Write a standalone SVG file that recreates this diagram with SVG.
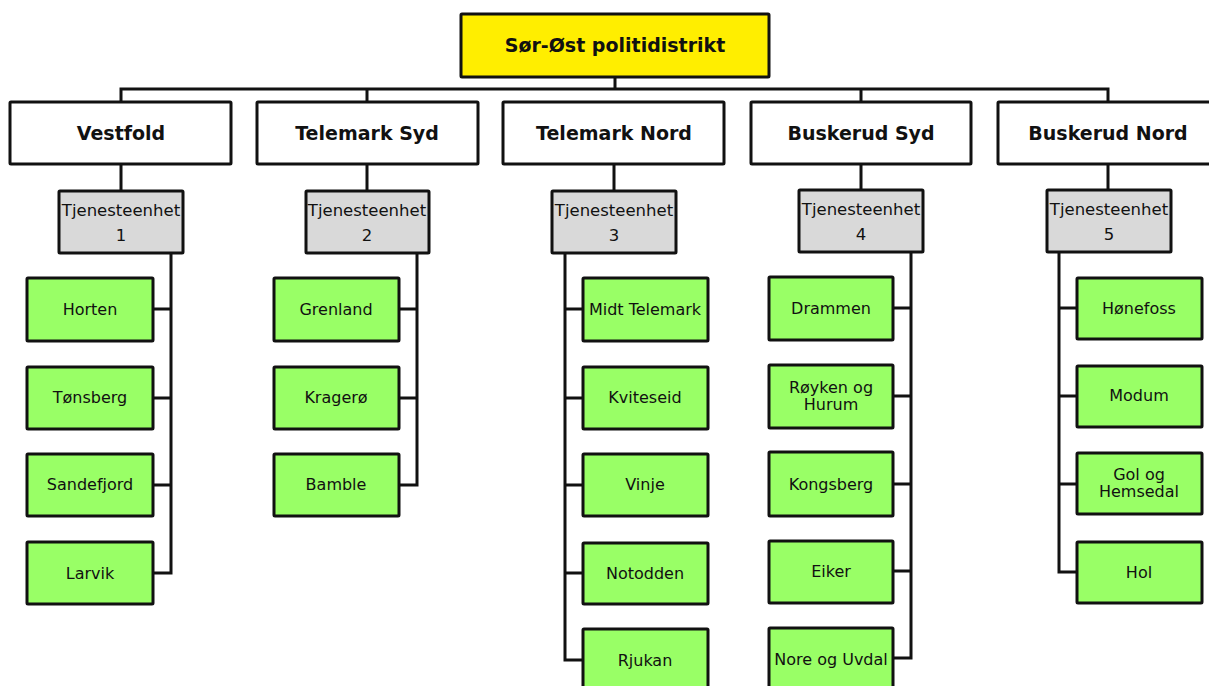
<svg xmlns="http://www.w3.org/2000/svg" width="1209" height="686" viewBox="0 0 1209 686">
<style>
.box{stroke:#111;stroke-width:3}
.top{fill:#FFEE00}
.l2{fill:#fff}
.te{fill:#D9D9D9}
.g{fill:#99FF66}
.ln{fill:none;stroke:#111;stroke-width:3}
text{font-family:"DejaVu Sans",Verdana,sans-serif;fill:#111;text-anchor:middle}
.b{font-weight:bold;font-size:19px}
.t{font-size:16.5px}
.n{font-size:16px}
</style>
<rect width="1209" height="686" fill="#fff"/>
<g id="connectors" class="ln">
<path d="M615 77V89M121 102V89H1108V102M367 89V102M861 89V102"/>
<path d="M121 164V191M367 164V191M614 164V191M861 164V191M1108 164V191"/>
<path d="M171 253V573H153M153 309H171M153 398H171M153 485H171"/>
<path d="M417 253V485H399M399 309H417M399 398H417"/>
<path d="M565 253V660H583M565 309H583M565 398H583M565 485H583M565 573H583"/>
<path d="M911 253V658H893M893 308H911M893 396H911M893 484H911M893 571H911"/>
<path d="M1059 252V572H1077M1059 308H1077M1059 396H1077M1059 484H1077"/>
</g>
<g id="root"><rect class="box top" x="461" y="14" width="308" height="63" rx="1"/><text class="b" x="615" y="52">Sør-Øst politidistrikt</text></g>
<g id="vestfold"><rect class="box l2" x="10" y="102" width="221" height="62" rx="1"/><text class="b" x="121" y="140">Vestfold</text></g>
<g id="telemark-syd"><rect class="box l2" x="257" y="102" width="221" height="62" rx="1"/><text class="b" x="367" y="140">Telemark Syd</text></g>
<g id="telemark-nord"><rect class="box l2" x="503" y="102" width="221" height="62" rx="1"/><text class="b" x="614" y="140">Telemark Nord</text></g>
<g id="buskerud-syd"><rect class="box l2" x="751" y="102" width="220" height="62" rx="1"/><text class="b" x="861" y="140">Buskerud Syd</text></g>
<g id="buskerud-nord"><rect class="box l2" x="998" y="102" width="222" height="62" rx="1"/><text class="b" x="1108" y="140">Buskerud Nord</text></g>
<g id="te1"><rect class="box te" x="59" y="191" width="124" height="62" rx="1"/><text class="t" x="121" y="216">Tjenesteenhet</text><text class="t" x="121" y="241">1</text></g>
<g id="te2"><rect class="box te" x="306" y="191" width="123" height="62" rx="1"/><text class="t" x="367" y="216">Tjenesteenhet</text><text class="t" x="367" y="241">2</text></g>
<g id="te3"><rect class="box te" x="552" y="191" width="124" height="62" rx="1"/><text class="t" x="614" y="216">Tjenesteenhet</text><text class="t" x="614" y="241">3</text></g>
<g id="te4"><rect class="box te" x="799" y="190" width="124" height="62" rx="1"/><text class="t" x="861" y="215">Tjenesteenhet</text><text class="t" x="861" y="240">4</text></g>
<g id="te5"><rect class="box te" x="1047" y="190" width="124" height="62" rx="1"/><text class="t" x="1109" y="215">Tjenesteenhet</text><text class="t" x="1109" y="240">5</text></g>
<g id="horten"><rect class="box g" x="27" y="278" width="126" height="63" rx="1"/><text class="n" x="90" y="315">Horten</text></g>
<g id="tonsberg"><rect class="box g" x="27" y="367" width="126" height="62" rx="1"/><text class="n" x="90" y="403">Tønsberg</text></g>
<g id="sandefjord"><rect class="box g" x="27" y="454" width="126" height="62" rx="1"/><text class="n" x="90" y="490">Sandefjord</text></g>
<g id="larvik"><rect class="box g" x="27" y="542" width="126" height="62" rx="1"/><text class="n" x="90" y="579">Larvik</text></g>
<g id="grenland"><rect class="box g" x="274" y="278" width="125" height="63" rx="1"/><text class="n" x="336" y="315">Grenland</text></g>
<g id="kragero"><rect class="box g" x="274" y="367" width="125" height="62" rx="1"/><text class="n" x="336" y="403">Kragerø</text></g>
<g id="bamble"><rect class="box g" x="274" y="454" width="125" height="62" rx="1"/><text class="n" x="336" y="490">Bamble</text></g>
<g id="midt-telemark"><rect class="box g" x="583" y="278" width="125" height="63" rx="1"/><text class="n" x="645" y="315">Midt Telemark</text></g>
<g id="kviteseid"><rect class="box g" x="583" y="367" width="125" height="62" rx="1"/><text class="n" x="645" y="403">Kviteseid</text></g>
<g id="vinje"><rect class="box g" x="583" y="454" width="125" height="62" rx="1"/><text class="n" x="645" y="490">Vinje</text></g>
<g id="notodden"><rect class="box g" x="583" y="543" width="125" height="61" rx="1"/><text class="n" x="645" y="579">Notodden</text></g>
<g id="rjukan"><rect class="box g" x="583" y="629" width="125" height="70" rx="1"/><text class="n" x="645" y="666">Rjukan</text></g>
<g id="drammen"><rect class="box g" x="769" y="277" width="124" height="63" rx="1"/><text class="n" x="831" y="314">Drammen</text></g>
<g id="royken"><rect class="box g" x="769" y="365" width="124" height="63" rx="1"/><text class="n" x="831" y="393">Røyken og</text><text class="n" x="831" y="410">Hurum</text></g>
<g id="kongsberg"><rect class="box g" x="769" y="452" width="124" height="64" rx="1"/><text class="n" x="831" y="490">Kongsberg</text></g>
<g id="eiker"><rect class="box g" x="769" y="541" width="124" height="62" rx="1"/><text class="n" x="831" y="577">Eiker</text></g>
<g id="nore-og-uvdal"><rect class="box g" x="769" y="628" width="124" height="70" rx="1"/><text class="n" x="831" y="665">Nore og Uvdal</text></g>
<g id="honefoss"><rect class="box g" x="1077" y="278" width="125" height="61" rx="1"/><text class="n" x="1139" y="314">Hønefoss</text></g>
<g id="modum"><rect class="box g" x="1077" y="366" width="125" height="61" rx="1"/><text class="n" x="1139" y="401">Modum</text></g>
<g id="gol-og-hemsedal"><rect class="box g" x="1077" y="453" width="125" height="61" rx="1"/><text class="n" x="1139" y="480">Gol og</text><text class="n" x="1139" y="497">Hemsedal</text></g>
<g id="hol"><rect class="box g" x="1077" y="542" width="125" height="61" rx="1"/><text class="n" x="1139" y="578">Hol</text></g>
</svg>
